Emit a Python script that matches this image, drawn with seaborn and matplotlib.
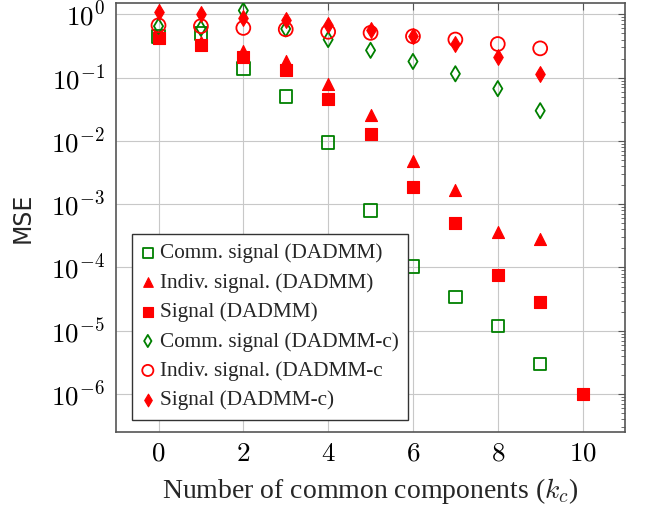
import numpy as np
import pandas as pd
import matplotlib
matplotlib.use("Agg")
import matplotlib.pyplot as plt
import matplotlib.ticker as mticker
import seaborn as sns

# values
k = [0, 1, 2, 3, 4, 5, 6, 7, 8, 9]
k_sig = [0, 1, 2, 3, 4, 5, 6, 7, 8, 9, 10]

comm_dadmm = [0.45, 0.5, 0.14, 0.05, 0.0094, 8e-4, 1.03e-4, 3.4e-5, 1.2e-5, 3e-6]
indiv_dadmm = [0.45, 0.36, 0.26, 0.18, 0.078, 0.026, 0.0048, 0.0017, 3.6e-4, 2.8e-4]
sig_dadmm = [0.42, 0.33, 0.21, 0.13, 0.046, 0.013, 0.0019, 5.1e-4, 7.6e-5, 2.9e-5, 1e-6]
comm_dadmmc = [0.65, 0.6, 1.15, 0.59, 0.40, 0.27, 0.18, 0.115, 0.067, 0.030]
indiv_dadmmc = [0.67, 0.65, 0.61, 0.58, 0.53, 0.51, 0.45, 0.40, 0.34, 0.29]
sig_dadmmc = [1.09, 1.0, 0.89, 0.80, 0.69, 0.57, 0.45, 0.34, 0.21, 0.115]

xticks = [0, 2, 4, 6, 8, 10]

sns.set_style("white")
plt.rcParams["font.family"] = ["Liberation Serif", "DejaVu Serif"]
plt.rcParams["mathtext.fontset"] = "cm"

fig = plt.figure(figsize=(6.45, 5.14), dpi=100)
ax = fig.add_axes([0.180, 0.1595, 0.789, 0.8345])

green = "#008000"
red = "#ff0000"

series = [
    (k, comm_dadmm, "Comm. signal (DADMM)", "s", green, False, 80),
    (k, indiv_dadmm, "Indiv. signal. (DADMM)", "^", red, True, 75),
    (k_sig, sig_dadmm, "Signal (DADMM)", "s", red, True, 80),
    (k, comm_dadmmc, "Comm. signal (DADMM-c)", "d", green, False, 60),
    (k, indiv_dadmmc, "Indiv. signal. (DADMM-c", "o", red, False, 100),
    (k, sig_dadmmc, "Signal (DADMM-c)", "d", red, True, 65),
]

for xs, ys, lab, mk, col, filled, size in series:
    if filled:
        sns.scatterplot(x=xs, y=ys, ax=ax, marker=mk, s=size, color=col,
                        edgecolor=col, linewidth=0.8, label=lab, zorder=3)
    else:
        sns.scatterplot(x=xs, y=ys, ax=ax, marker=mk, s=size, facecolor="none",
                        edgecolor=col, linewidth=1.3, label=lab, zorder=3)

ax.set_yscale("log")
ax.set_xlim(-1, 11)
ax.set_ylim(10 ** -6.6, 10 ** 0.178)
ax.set_xticks(xticks)
ax.set_xticklabels([r"$\mathrm{%d}$" % t for t in xticks])
ax.yaxis.set_major_locator(mticker.LogLocator(base=10, numticks=20))
ax.yaxis.set_major_formatter(mticker.FuncFormatter(
    lambda v, p: r"$\mathrm{10^{%d}}$" % int(round(np.log10(v)))))
ax.yaxis.set_minor_locator(mticker.LogLocator(base=10, subs=np.arange(2, 10), numticks=20))
ax.yaxis.set_minor_formatter(mticker.NullFormatter())
ax.grid(True, which="major", color="#c8c8c8", linewidth=0.8)
ax.set_axisbelow(True)
ax.tick_params(which="both", direction="in", top=True, right=True,
               labelsize=19.5, colors="#555555", labelcolor="black")
ax.tick_params(axis="x", pad=7)
ax.tick_params(axis="y", pad=8)
ax.tick_params(which="major", length=5)
ax.tick_params(which="minor", length=3)
for sp in ax.spines.values():
    sp.set_color("#555555")
    sp.set_linewidth(1.2)

ax.set_xlabel("Number of common components ($k_c$)", fontsize=20, labelpad=7)
ax.set_ylabel("MSE", fontsize=17, family="DejaVu Sans", labelpad=12)

leg = ax.legend(loc="lower left", bbox_to_anchor=(0.031, 0.028), borderaxespad=0,
                fontsize=15.3, frameon=True, fancybox=False, edgecolor="#333333",
                framealpha=1, handlelength=0.6, handletextpad=0.25,
                labelspacing=0.45, borderpad=0.45, markerscale=0.8)
leg.get_frame().set_linewidth(1.0)

fig.savefig("out.png", dpi=100)
